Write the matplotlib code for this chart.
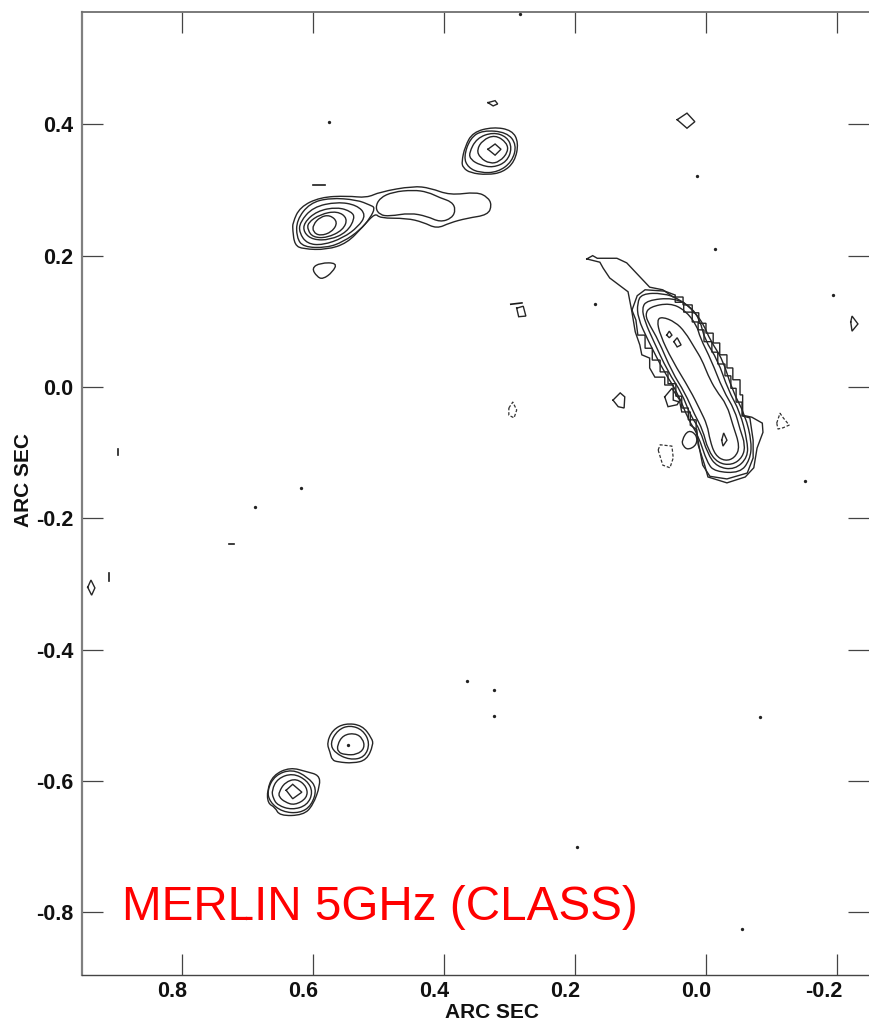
import numpy as np
import matplotlib
matplotlib.use('Agg')
import matplotlib.pyplot as plt
from matplotlib.path import Path
from matplotlib.patches import PathPatch
from matplotlib.transforms import ScaledTranslation

plt.rcParams['font.family'] = ['Liberation Sans', 'DejaVu Sans']

# all contours are (RA offset, Dec offset) in milli-arcsec
arc_1 = [(182, 195), (173, 200), (166, 196), (136, 196), (121, 189), (104, 171), (86, 152), (66, 148), (50, 137),
         (35, 137), (35, 125), (21, 125), (21, 113), (11, 113), (11, 97), (0, 97), (0, 82), (-11, 82), (-11, 67),
         (-21, 67), (-21, 49), (-32, 49), (-32, 29), (-41, 29), (-41, 11), (-52, 11), (-52, -12), (-56, -12),
         (-56, -43), (-70, -46), (-86, -55), (-87, -69), (-78, -93), (-73, -123), (-60, -137), (-32, -146),
         (-3, -137), (2, -119), (12, -88), (14, -65), (24, -58), (24, -38), (37, -38), (40, -23), (50, -20),
         (50, 3), (63, 3), (63, 15), (78, 15), (86, 29), (86, 44), (98, 49), (101, 64), (108, 84), (113, 114),
         (119, 145), (147, 166), (157, 181), (162, 190)]
arc_2 = [(113, 117), (105, 139), (93, 148), (63, 146), (47, 140), (47, 129), (34, 129), (34, 114), (21, 114),
         (21, 99), (12, 99), (12, 87), (3, 87), (3, 69), (-9, 69), (-9, 53), (-18, 53), (-18, 35), (-29, 35),
         (-29, 17), (-38, 17), (-38, -2), (-46, -2), (-46, -23), (-55, -23), (-55, -44), (-67, -47), (-72, -81),
         (-72, -108), (-63, -131), (-32, -140), (-6, -136), (5, -119), (11, -88), (15, -65), (15, -50), (27, -50),
         (27, -32), (37, -32), (37, -14), (46, -14), (46, 5), (58, 5), (58, 23), (70, 23), (70, 41), (82, 41),
         (82, 59), (93, 59), (93, 79), (104, 79), (107, 102)]
arc_3 = [(105, 128), (98, 142), (66, 143), (40, 134), (17, 114), (3, 94), (-6, 72), (-26, 41), (-40, -5), (-60, -43),
         (-70, -85), (-67, -111), (-52, -131), (-14, -129), (-2, -116), (12, -73), (27, -50), (43, -9), (64, 23),
         (89, 72), (104, 105)]
arc_4 = [(98, 120), (90, 132), (50, 136), (24, 123), (9, 102), (2, 72), (-18, 41), (-34, -5), (-52, -38), (-63, -81),
         (-64, -107), (-44, -126), (-17, -122), (-2, -101), (9, -65), (24, -43), (37, -9), (58, 23), (81, 72),
         (93, 99)]
arc_5 = [(93, 110), (86, 122), (55, 128), (32, 117), (14, 94), (9, 75), (-8, 41), (-26, -5), (-44, -35), (-52, -65),
         (-60, -88), (-56, -107), (-40, -119), (-18, -116), (-3, -96), (5, -65), (17, -43), (32, -9), (52, 23),
         (73, 72), (86, 94)]
arc_6 = [(75, 102), (67, 107), (47, 99), (32, 84), (17, 59), (6, 41), (-3, 18), (-15, -5), (-32, -27), (-41, -58),
         (-52, -91), (-44, -108), (-29, -113), (-14, -104), (-6, -81), (-2, -58), (9, -35), (24, -5), (52, 41),
         (70, 79)]
arc_peak_a = [(60, 79), (56, 85), (52, 79), (56, 75)]
arc_peak_b = [(49, 69), (44, 75), (38, 64), (44, 61)]
arc_peak_c = [(-24, -81), (-27, -70), (-32, -81), (-26, -90)]
arc_side_a = [(63, -15), (52, -2), (40, -20), (44, -27), (58, -30)]
arc_side_b = [(37, -81), (27, -65), (14, -73), (14, -88), (27, -96), (35, -90)]

jet_outer = [(631, 250), (620, 274), (589, 289), (548, 291), (518, 288), (498, 297), (447, 306), (421, 303), (391, 292),
             (350, 297), (333, 289), (327, 277), (333, 262), (365, 257), (391, 250), (411, 241), (432, 251), (457, 257),
             (498, 257), (505, 265), (524, 244), (548, 219), (579, 209), (615, 210), (628, 216), (631, 239)]
jet_inner = [(505, 273), (498, 288), (478, 297), (447, 300), (425, 297), (406, 288), (388, 282), (382, 270), (388, 257),
             (406, 251), (426, 260), (452, 265), (483, 260), (498, 262)]
west_2 = [(625, 254), (605, 280), (574, 288), (533, 285), (513, 277), (505, 273), (513, 257), (528, 239), (554, 221),
          (579, 212), (615, 213), (625, 228)]
west_3 = [(620, 251), (600, 274), (563, 282), (533, 277), (519, 262), (531, 244), (554, 227), (585, 216), (609, 218),
          (621, 235)]
west_4 = [(614, 250), (594, 268), (563, 274), (541, 267), (536, 257), (548, 236), (574, 224), (600, 224), (614, 235)]
west_5 = [(608, 250), (589, 263), (563, 268), (547, 257), (554, 239), (579, 227), (600, 228), (608, 239)]
west_6 = [(600, 247), (589, 259), (574, 262), (562, 251), (571, 236), (589, 230), (600, 236)]
west_below = [(602, 181), (589, 189), (563, 189), (570, 175), (585, 164), (594, 168)]

north_1 = [(373, 343), (368, 366), (356, 388), (325, 396), (296, 391), (286, 372), (292, 343), (310, 327), (334, 323),
           (360, 326), (371, 334)]
north_2 = [(370, 350), (360, 379), (341, 391), (304, 388), (289, 369), (296, 343), (318, 327), (345, 326), (363, 334)]
north_3 = [(362, 356), (350, 379), (325, 388), (304, 381), (296, 364), (304, 343), (325, 334), (345, 338), (359, 346)]
north_4 = [(350, 361), (341, 376), (322, 384), (304, 372), (302, 358), (315, 343), (330, 340), (345, 349)]
north_5 = [(333, 362), (322, 370), (313, 362), (322, 353)]
north_small = [(333, 433), (322, 436), (318, 431), (325, 428)]

south_1 = [(579, -542), (570, -522), (551, -512), (525, -515), (510, -535), (508, -545), (518, -568), (539, -573),
           (562, -571), (571, -568), (574, -556)]
south_2 = [(574, -542), (562, -522), (544, -515), (524, -522), (513, -542), (521, -564), (544, -568), (567, -557)]
south_3 = [(563, -545), (554, -530), (536, -527), (524, -535), (521, -550), (533, -560), (551, -560), (562, -556)]

low_1 = [(670, -614), (661, -591), (635, -579), (609, -586), (591, -591), (589, -606), (600, -637), (615, -652),
         (651, -653), (658, -640), (669, -634)]
low_2 = [(670, -614), (658, -591), (632, -582), (608, -594), (594, -611), (602, -637), (620, -649), (647, -647),
         (666, -632)]
low_3 = [(663, -614), (654, -596), (631, -588), (609, -599), (600, -617), (609, -637), (632, -644), (654, -637),
         (661, -626)]
low_4 = [(652, -617), (643, -602), (625, -596), (609, -609), (609, -626), (628, -637), (643, -632), (652, -624)]
low_5 = [(641, -614), (631, -605), (617, -617), (631, -627)]

isle_a = [(44, 407), (29, 417), (17, 404), (29, 394)]
isle_b = [(-221, 99), (-223, 108), (-232, 96), (-223, 85)]
isle_c = [(289, 120), (279, 123), (275, 108), (286, 107)]
isle_d = [(142, -20), (131, -9), (124, -15), (125, -32), (134, -30)]
isle_e = [(944, -305), (939, -294), (933, -306), (938, -317)]

# negative levels, dashed on the map
neg_a = [(301, -32), (295, -23), (289, -35), (293, -47), (301, -43)]
neg_b = [(73, -96), (70, -88), (52, -90), (50, -108), (55, -123), (66, -119)]
neg_c = [(-108, -55), (-113, -40), (-118, -47), (-127, -58), (-118, -62), (-110, -64)]

speck_ra = [576, 14, -14, -194, 169, -151, 284, 365, 324, 324, 197, -55, -82, 702, 618, 689, 547]
speck_dec = [404, 321, 210, 140, 126, -143, 568, -448, -461, -501, -701, -825, -503, -809, -154, -183, -545]

bar_top = [(600, 308), (582, 308)]
bar_low = [(728, -239), (720, -239)]
bar_v1 = [(898, -95), (898, -103)]
bar_v2 = [(912, -283), (912, -295)]
bar_isle = [(298, 126), (281, 128)]

rounded = [arc_3, arc_4, arc_5, arc_6, arc_side_b, jet_outer, jet_inner, west_2, west_3, west_4, west_5, west_6,
           west_below, north_1, north_2, north_3, north_4, south_1, south_2, south_3, low_1, low_2, low_3, low_4]
angular = [arc_1, arc_2, arc_peak_a, arc_peak_b, arc_peak_c, arc_side_a, north_5, north_small, low_5,
           isle_a, isle_b, isle_c, isle_d, isle_e]
closed_dashed = [neg_a, neg_b, neg_c]
open_bars = [bar_top, bar_low, bar_v1, bar_v2, bar_isle]

x_ticks = [0.8, 0.6, 0.4, 0.2, 0.0, -0.2]
y_ticks = [0.4, 0.2, 0.0, -0.2, -0.4, -0.6, -0.8]


def to_arcsec(points, close=True):
    xy = np.array(points) / 1000.0
    if close:
        xy = np.vstack([xy, xy[0]])
    return xy[:, 0], xy[:, 1]


def curved_path(points):
    # quadratic pieces through the edge midpoints, the vertices act as control points
    xy = np.array(points) / 1000.0
    mid = (xy + np.roll(xy, -1, axis=0)) / 2.0
    verts = [mid[-1]]
    codes = [Path.MOVETO]
    for i in range(len(xy)):
        verts += [xy[i], mid[i]]
        codes += [Path.CURVE3, Path.CURVE3]
    return Path(verts, codes)


fig = plt.figure(figsize=(8.69, 10.23), dpi=100)
ax = fig.add_axes([82 / 869, 1 - 974.5 / 1023, 787 / 869, 962.5 / 1023])
ax.set_xlim(0.9527, -0.2489)
ax.set_ylim(-0.8946, 0.571)

for c in rounded:
    ax.add_patch(PathPatch(curved_path(c), fill=False, edgecolor='#262626', lw=1.0))
for c in angular:
    xs, ys = to_arcsec(c)
    ax.plot(xs, ys, color='#262626', lw=1.0, solid_joinstyle='miter')
for c in closed_dashed:
    xs, ys = to_arcsec(c)
    ax.plot(xs, ys, color='#333333', lw=0.9, ls=(0, (2.5, 1.5)))
for c in open_bars:
    xs, ys = to_arcsec(c, close=False)
    ax.plot(xs, ys, color='#1c1c1c', lw=1.2)
ax.plot(np.array(speck_ra) / 1000.0, np.array(speck_dec) / 1000.0, ls='none', marker='o', ms=2.4,
        color='#222222', mew=0)

ax.set_xticks(x_ticks)
ax.set_xticklabels(['%.1f' % v for v in x_ticks], fontweight='bold', fontsize=15.5, color='#111111', ha='right')
ax.set_yticks(y_ticks)
ax.set_yticklabels(['%.1f' % v for v in y_ticks], fontweight='bold', fontsize=15.5, color='#111111')
ax.tick_params(axis='both', which='major', direction='in', length=15, width=0.9, color='#444444',
               top=True, right=True)
ax.tick_params(axis='x', pad=5)
ax.tick_params(axis='y', pad=6)
for lab in ax.get_xticklabels():
    lab.set_transform(lab.get_transform() + ScaledTranslation(0.055, 0, fig.dpi_scale_trans))

ax.spines['left'].set_linewidth(1.6)
ax.spines['left'].set_color('#808080')
ax.spines['top'].set_linewidth(1.3)
ax.spines['top'].set_color('#707070')
ax.spines['bottom'].set_linewidth(1.0)
ax.spines['bottom'].set_color('#444444')
ax.spines['right'].set_visible(False)

ax.set_xlabel('ARC SEC', fontweight='bold', fontsize=15, color='#111111')
ax.xaxis.set_label_coords(492 / 869, 1 - 1013 / 1023, transform=fig.transFigure)
ax.xaxis.label.set_va('center')
ax.set_ylabel('ARC SEC', fontweight='bold', fontsize=15, color='#111111')
ax.yaxis.set_label_coords(24 / 869, 1 - 480 / 1023, transform=fig.transFigure)
ax.yaxis.label.set_va('center')

ax.text(122 / 869, 1 - 920 / 1023, 'MERLIN 5GHz (CLASS)', transform=fig.transFigure, color='#ff0000',
        fontsize=34.3, ha='left', va='baseline')

fig.savefig('out.png', dpi=100)
